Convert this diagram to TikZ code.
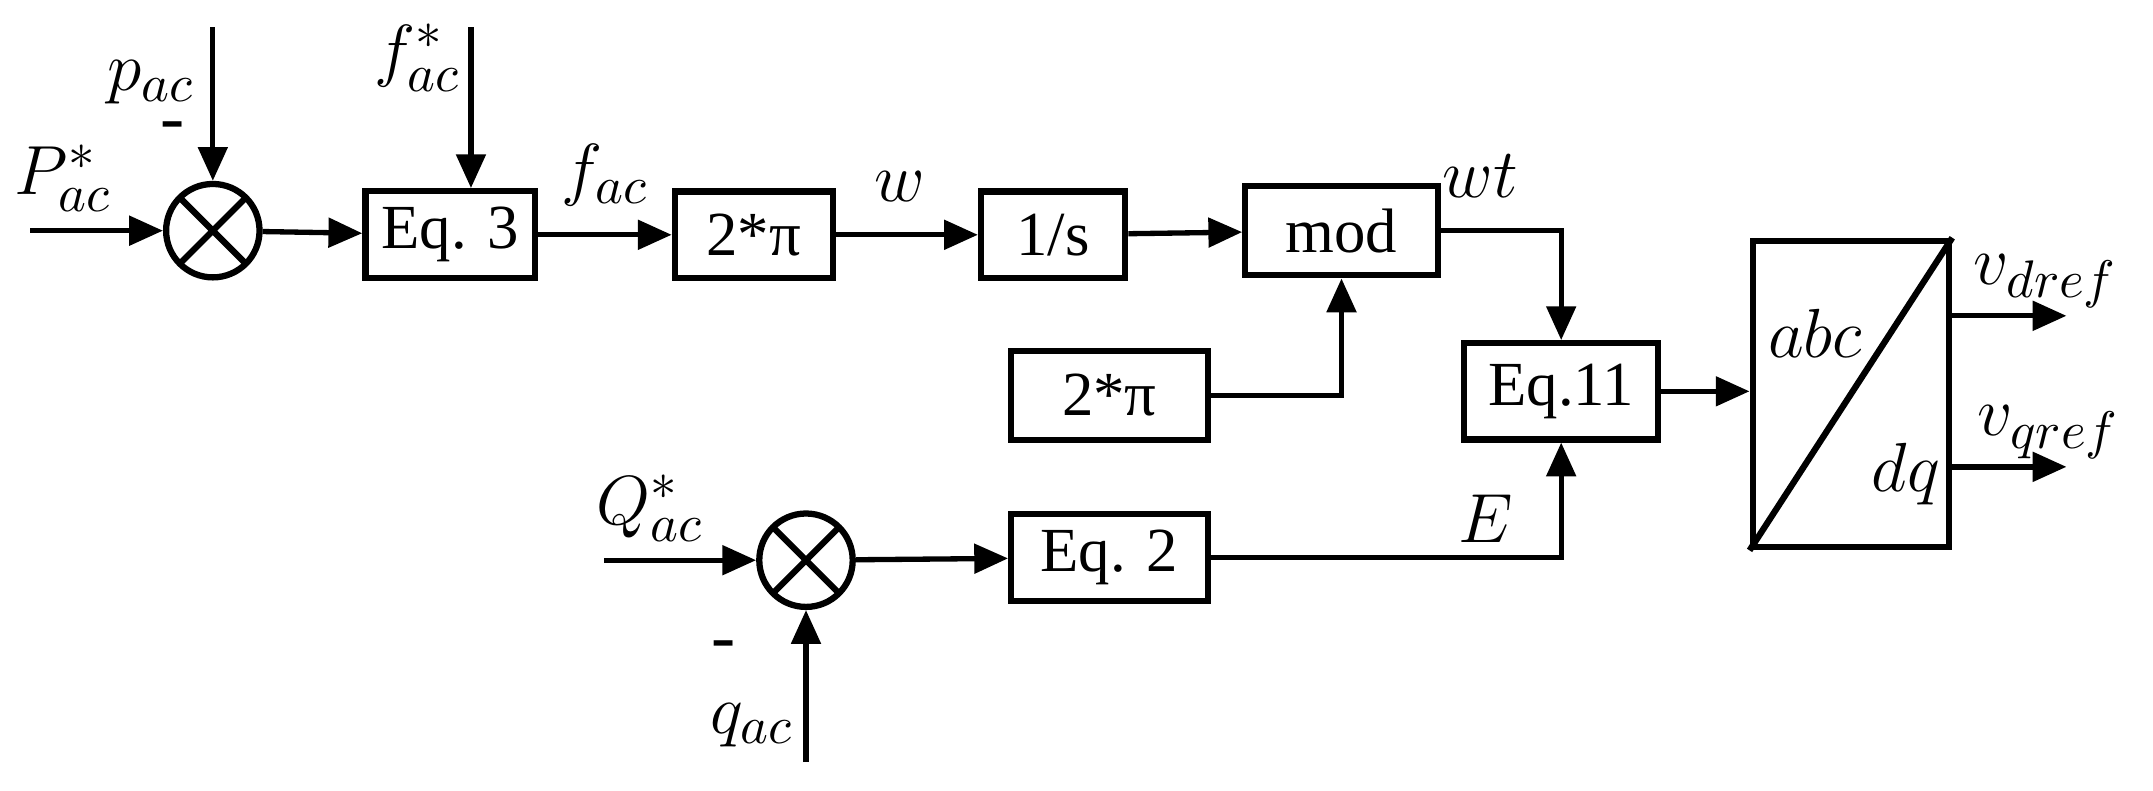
\documentclass[tikz,border=0pt]{standalone}
\usepackage{fontspec}
\setmainfont{Liberation Serif}
\usetikzlibrary{arrows.meta}
\begin{document}
\begin{tikzpicture}[x=0.01cm,y=-0.01cm,line width=1.1pt,
  >={Triangle[length=7pt,width=6pt]},
  blk/.style={draw,line width=1.3pt,minimum height=0.63cm,font=\fontsize{13}{15}\selectfont},
  sum/.style={draw,circle,line width=1.3pt,minimum size=0.68cm,inner sep=0pt,path picture={
    \draw (path picture bounding box.south west)--(path picture bounding box.north east)
          (path picture bounding box.north west)--(path picture bounding box.south east);}},
  lbl/.style={font=\fontsize{15}{17}\selectfont}]
\useasboundingbox (0,0) rectangle (1568,576);
% upper path
\node[sum] (s1) at (155,168) {};
\node[blk,minimum width=1.17cm] (eq3) at (328,171) {Eq. 3};
\node[blk,minimum width=1.15cm] (tp1) at (549,171) {2*π};
\node[blk,minimum width=1.05cm] (ints) at (767,171) {1/s};
\node[blk,minimum width=1.4cm,minimum height=0.65cm] (mod) at (977,168) {mod};
\node[blk,minimum width=1.43cm,minimum height=0.65cm] (tp2) at (808,288) {2*π};
\node[blk,minimum width=1.41cm,minimum height=0.7cm] (eq11) at (1137,285) {Eq.11};
% lower path
\node[sum] (s2) at (587,408) {};
\node[blk,minimum width=1.43cm] (eq2) at (808,406) {Eq. 2};
% transform
\node[blk,minimum width=1.43cm,minimum height=2.23cm] (tf) at (1348,287) {};
\draw[line width=1.3pt] (tf.south west)--(tf.north east);
\node[lbl] at (1322,243) {$abc$};
\node[lbl] at (1388,345) {$dq$};
% inputs
\coordinate (pin) at (22,168);
\coordinate (pac) at (155,20);
\coordinate (fin) at (343,20);
\coordinate (qin) at (440,408);
\coordinate (qac) at (587,555);
\draw[->] (pin)--(s1) node[lbl,pos=0.25,above] {$P_{ac}^{*}$};
\draw[->] (pac)--(s1);
\node[lbl] at (110,60) {$p_{ac}$};
\node[lbl] at (126,96) {-};
\draw[->] (s1)--(eq3);
\draw[->] (fin)--(fin|-eq3.north);
\node[lbl] at (304,42) {$f_{ac}^{*}$};
\draw[->] (eq3)--(tp1) node[lbl,midway,above=2pt] {$f_{ac}$};
\draw[->] (tp1)--(ints) node[lbl,pos=0.45,above=3pt] {$w$};
\draw[->] (ints)--(mod);
\draw[->] (tp2.east)-|(mod.south);
\draw[->] (mod.east)-|(eq11.north);
\node[lbl] at (1078,128) {$wt$};
\draw[->] (qin)--(s2) node[lbl,pos=0.3,above] {$Q_{ac}^{*}$};
\draw[->] (qac)--(s2);
\node[lbl] at (548,528) {$q_{ac}$};
\node[lbl] at (527,474) {-};
\draw[->] (s2)--(eq2);
\draw[->] (eq2.east)-|(eq11.south);
\node[lbl] at (1082,378) {$E$};
\draw[->] (eq11)--(eq11-|tf.west);
\coordinate (vd) at (1505,230);
\coordinate (vq) at (1505,340);
\draw[->] (tf.east|-vd)--(vd);
\node[lbl] at (1490,205) {$v_{dref}$};
\draw[->] (tf.east|-vq)--(vq);
\node[lbl] at (1492,315) {$v_{qref}$};
\end{tikzpicture}
\end{document}
